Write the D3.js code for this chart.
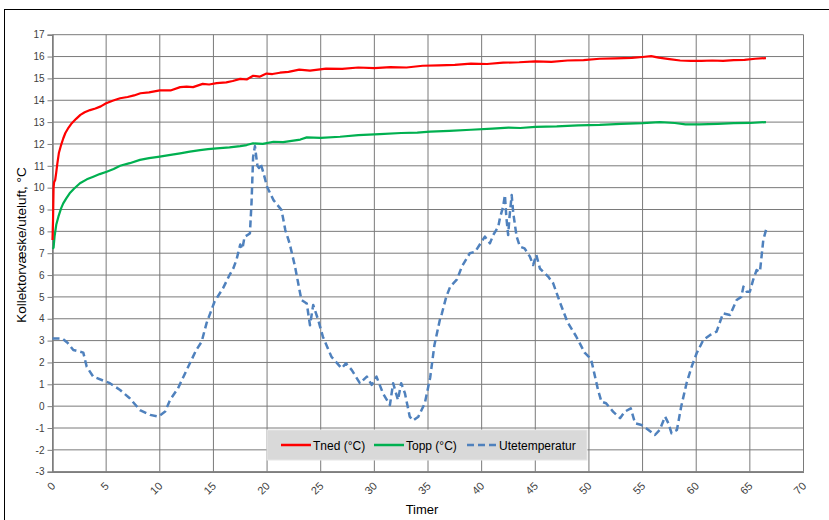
<!DOCTYPE html>
<html>
<head>
<meta charset="utf-8">
<script src="https://cdn.jsdelivr.net/npm/d3@7"></script>
<style>
  html, body { margin: 0; padding: 0; background: #fff; }
  svg { display: block; }
  text { font-family: "Liberation Sans", Arial, sans-serif; }
</style>
</head>
<body>
<div id="chart"></div>
<script>
// Hours since start for the collector fluid temperature (Tned)
const tnedHours = [0, 0.05, 0.1, 0.15, 0.25, 0.35, 0.45, 0.6, 0.8, 1.0, 1.2, 1.5, 1.8, 2.2, 2.6, 3.0, 3.5, 4.0, 4.5, 5.0, 5.6, 6.3, 7.0, 7.6, 8.2, 9.0, 10.0, 11.0, 11.9, 12.5, 13.1, 14.0, 14.6, 15.3, 16.2, 16.8, 17.5, 18.1, 18.7, 19.3, 19.95, 20.5, 21.2, 22.0, 23.0, 24.0, 25.5, 27, 28.5, 30, 31.5, 33, 34.5, 36, 37.5, 39, 40.5, 42, 43.5, 45, 46.5, 48, 49.5, 51, 52.5, 54, 55, 55.8, 56.5, 57.5, 58.5, 59.5, 60.5, 61.5, 62.5, 63.5, 64.5, 65.5, 66.5];
const tnedValues = [7.6, 8.5, 10.0, 10.25, 10.35, 10.7, 11.1, 11.6, 11.95, 12.25, 12.5, 12.75, 12.95, 13.15, 13.33, 13.45, 13.55, 13.62, 13.72, 13.86, 13.98, 14.09, 14.15, 14.22, 14.32, 14.36, 14.45, 14.45, 14.6, 14.62, 14.6, 14.75, 14.72, 14.78, 14.82, 14.88, 14.98, 14.95, 15.12, 15.08, 15.22, 15.2, 15.26, 15.3, 15.4, 15.36, 15.45, 15.44, 15.5, 15.47, 15.52, 15.5, 15.58, 15.6, 15.62, 15.68, 15.66, 15.72, 15.74, 15.78, 15.76, 15.82, 15.84, 15.9, 15.92, 15.94, 15.98, 16.02, 15.95, 15.88, 15.82, 15.8, 15.8, 15.82, 15.8, 15.84, 15.85, 15.9, 15.93];

// Top temperature (Topp)
const toppHours = [0, 0.1, 0.2, 0.35, 0.55, 0.8, 1.0, 1.3, 1.6, 2.0, 2.56, 3.2, 3.8, 4.4, 5.05, 5.7, 6.3, 7.2, 8.15, 9.0, 10.0, 11.0, 11.9, 12.8, 13.75, 14.5, 15.3, 16.5, 17.5, 18.1, 18.7, 19.6, 20.6, 21.5, 22.45, 23.1, 23.7, 25, 26.8, 28.5, 30.5, 32.5, 34, 35.2, 37, 39, 41, 42.5, 43.6, 45, 47, 49, 51, 53, 55, 56.6, 58, 59, 60.3, 62, 63.5, 65, 66.5];
const toppValues = [7.2, 7.25, 7.8, 8.3, 8.67, 9.05, 9.28, 9.52, 9.74, 9.95, 10.2, 10.38, 10.5, 10.62, 10.73, 10.85, 11.0, 11.12, 11.27, 11.35, 11.42, 11.5, 11.57, 11.65, 11.72, 11.76, 11.8, 11.84, 11.9, 11.95, 12.03, 12.0, 12.1, 12.08, 12.15, 12.2, 12.3, 12.28, 12.33, 12.4, 12.45, 12.5, 12.52, 12.56, 12.6, 12.65, 12.7, 12.75, 12.73, 12.78, 12.8, 12.85, 12.87, 12.92, 12.95, 13.0, 12.96, 12.9, 12.9, 12.92, 12.95, 12.96, 13.0];

// Outdoor air temperature (Utetemperatur)
const uteHours = [0.0, 0.9, 1.4, 1.94, 2.87, 3.19, 3.8, 4.73, 5.35, 6.3, 7.2, 8.15, 9.1, 9.86, 10.5, 10.95, 11.7, 12.5, 13.4, 13.9, 14.36, 15.1, 15.9, 16.5, 16.85, 17.15, 17.5, 17.7, 17.9, 18.4, 18.55, 18.7, 18.87, 19.1, 19.25, 19.4, 19.65, 20.0, 20.6, 21.35, 21.7, 22.1, 22.6, 23.2, 23.7, 24.0, 24.3, 24.77, 25.2, 26.0, 26.95, 27.35, 27.9, 28.65, 29.3, 29.75, 30.2, 30.8, 31.45, 31.75, 32.2, 32.5, 32.85, 33.3, 33.6, 34.1, 34.7, 35.2, 35.6, 36.1, 36.3, 36.7, 37.07, 37.7, 38.15, 38.9, 39.4, 40.0, 40.3, 40.77, 41.08, 41.55, 41.7, 42.0, 42.17, 42.3, 42.47, 42.6, 42.8, 42.95, 43.26, 43.57, 44.0, 44.5, 44.8, 45.1, 45.43, 46.2, 46.67, 47.3, 48.0, 48.8, 49.6, 50.2, 50.5, 50.85, 51.17, 51.6, 52.25, 52.9, 53.35, 53.9, 54.3, 54.9, 55.55, 56.15, 56.6, 57.1, 57.4, 57.7, 58.2, 58.6, 59.1, 59.57, 60.04, 60.66, 61.3, 61.9, 62.5, 63.15, 63.77, 64.2, 64.4, 64.7, 65.0, 65.3, 65.63, 65.94, 66.25, 66.55];
const uteValues = [3.1, 3.1, 2.9, 2.57, 2.45, 1.8, 1.35, 1.17, 1.05, 0.74, 0.36, -0.18, -0.4, -0.48, -0.25, 0.28, 0.82, 1.65, 2.57, 2.95, 3.8, 4.78, 5.4, 6.0, 6.3, 6.7, 7.4, 7.2, 7.75, 7.9, 9.3, 11.4, 11.9, 11.0, 10.9, 11.1, 10.7, 10.04, 9.43, 8.97, 8.06, 7.45, 6.4, 4.86, 4.7, 3.7, 4.63, 3.94, 3.18, 2.26, 1.73, 1.96, 1.65, 1.05, 1.35, 0.97, 1.35, 0.59, 0.05, 1.05, 0.28, 1.05, 0.59, -0.48, -0.66, -0.48, 0.13, 1.3, 2.8, 3.94, 4.25, 5.0, 5.47, 5.8, 6.38, 7.0, 7.07, 7.53, 7.76, 7.45, 7.83, 8.21, 8.6, 9.13, 9.66, 8.67, 7.83, 8.67, 9.66, 8.83, 7.76, 7.3, 7.22, 6.84, 6.46, 6.92, 6.3, 5.93, 5.62, 4.75, 3.85, 3.2, 2.45, 2.15, 1.5, 0.74, 0.2, 0.13, -0.25, -0.55, -0.25, -0.1, -0.78, -0.86, -1.09, -1.32, -1.09, -0.48, -0.78, -1.24, -1.09, -0.02, 1.05, 1.8, 2.42, 3.03, 3.26, 3.41, 4.25, 4.17, 4.86, 5.0, 5.47, 5.24, 5.24, 5.77, 6.23, 6.15, 7.6, 8.14];

// Axis ticks
const xTicks = [0, 5, 10, 15, 20, 25, 30, 35, 40, 45, 50, 55, 60, 65, 70];
const yTicks = [-3, -2, -1, 0, 1, 2, 3, 4, 5, 6, 7, 8, 9, 10, 11, 12, 13, 14, 15, 16, 17];

const seriesNames = ["Tned (°C)", "Topp (°C)", "Utetemperatur"];
const xTitle = "Timer";
const yTitle = "Kollektorvæske/uteluft, °C";

const W = 829, H = 520;
const plot = { left: 52.5, right: 803.5, top: 34.7, bottom: 471.7 };

const svg = d3.select("#chart").append("svg")
  .attr("width", W).attr("height", H);

// chart frame
svg.append("rect")
  .attr("x", 4.5).attr("y", 9.5)
  .attr("width", W + 10).attr("height", H + 10)
  .attr("fill", "#fff").attr("stroke", "#000").attr("stroke-width", 1);

const x = d3.scaleLinear().domain([0, 70]).range([plot.left, plot.right]);
const y = d3.scaleLinear().domain([-3, 17]).range([plot.bottom, plot.top]);

// plain hyphen for negative numbers
const fmt = d => String(d);

// grid
const grid = svg.append("g");
grid.selectAll("line.h").data(yTicks).join("line")
  .attr("x1", plot.left).attr("x2", plot.right)
  .attr("y1", d => y(d)).attr("y2", d => y(d))
  .attr("stroke", "#7a7a7a").attr("stroke-width", 1);
grid.selectAll("line.v").data(xTicks).join("line")
  .attr("y1", plot.top).attr("y2", plot.bottom)
  .attr("x1", d => x(d)).attr("x2", d => x(d))
  .attr("stroke", "#7a7a7a").attr("stroke-width", 1);

// y axis
const yAxis = svg.append("g")
  .attr("transform", `translate(${plot.left},0)`)
  .call(d3.axisLeft(y).tickValues(yTicks).tickFormat(fmt).tickSize(5).tickPadding(3));
yAxis.select(".domain").attr("stroke", "#7f7f7f").attr("stroke-width", 1.5);
yAxis.selectAll(".tick line").attr("stroke", "#7f7f7f");
yAxis.selectAll("text").attr("font-size", 10).attr("fill", "#404040");

// x axis with rotated labels
const xAxis = svg.append("g")
  .attr("transform", `translate(0,${plot.bottom})`)
  .call(d3.axisBottom(x).tickValues(xTicks).tickFormat(fmt).tickSize(0).tickPadding(0));
xAxis.select(".domain").attr("stroke", "#7f7f7f").attr("stroke-width", 1.5);
xAxis.selectAll(".tick text")
  .attr("font-size", 11).attr("fill", "#404040")
  .attr("text-anchor", "end")
  .attr("dy", null).attr("y", 0)
  .attr("transform", "translate(3,15) rotate(-45)");

// lines
const line = d3.line().x(d => x(d[0])).y(d => y(d[1]));
const tned = d3.zip(tnedHours, tnedValues);
const topp = d3.zip(toppHours, toppValues);
const ute = d3.zip(uteHours, uteValues);

svg.append("path").datum(ute).attr("d", line)
  .attr("fill", "none").attr("stroke", "#4f81bd").attr("stroke-width", 2.5)
  .attr("stroke-dasharray", "7,4").attr("stroke-linejoin", "round");
svg.append("path").datum(topp).attr("d", line)
  .attr("fill", "none").attr("stroke", "#00b050").attr("stroke-width", 2.2)
  .attr("stroke-linejoin", "round");
svg.append("path").datum(tned).attr("d", line)
  .attr("fill", "none").attr("stroke", "#ff0000").attr("stroke-width", 2.2)
  .attr("stroke-linejoin", "round");

// legend
const legend = svg.append("g");
legend.append("rect")
  .attr("x", 267).attr("y", 430).attr("width", 320).attr("height", 30)
  .attr("fill", "#d9d9d9").attr("stroke", "#e6e6e6");
const legendItems = [
  { name: seriesNames[0], color: "#ff0000", dash: null, x0: 281 },
  { name: seriesNames[1], color: "#00b050", dash: null, x0: 374 },
  { name: seriesNames[2], color: "#4f81bd", dash: "7,4", x0: 467 }
];
legendItems.forEach(it => {
  legend.append("line")
    .attr("x1", it.x0).attr("x2", it.x0 + 30).attr("y1", 445).attr("y2", 445)
    .attr("stroke", it.color).attr("stroke-width", 2.5)
    .attr("stroke-dasharray", it.dash);
  legend.append("text")
    .attr("x", it.x0 + 32).attr("y", 449.5)
    .attr("font-size", 12).attr("fill", "#000")
    .text(it.name);
});

// axis titles
svg.append("text")
  .attr("x", 422).attr("y", 514)
  .attr("text-anchor", "middle").attr("font-size", 13).attr("fill", "#000")
  .text(xTitle);
svg.append("text")
  .attr("transform", "translate(26,245) rotate(-90)")
  .attr("text-anchor", "middle").attr("font-size", 13.5).attr("fill", "#000")
  .text(yTitle);
</script>
</body>
</html>
